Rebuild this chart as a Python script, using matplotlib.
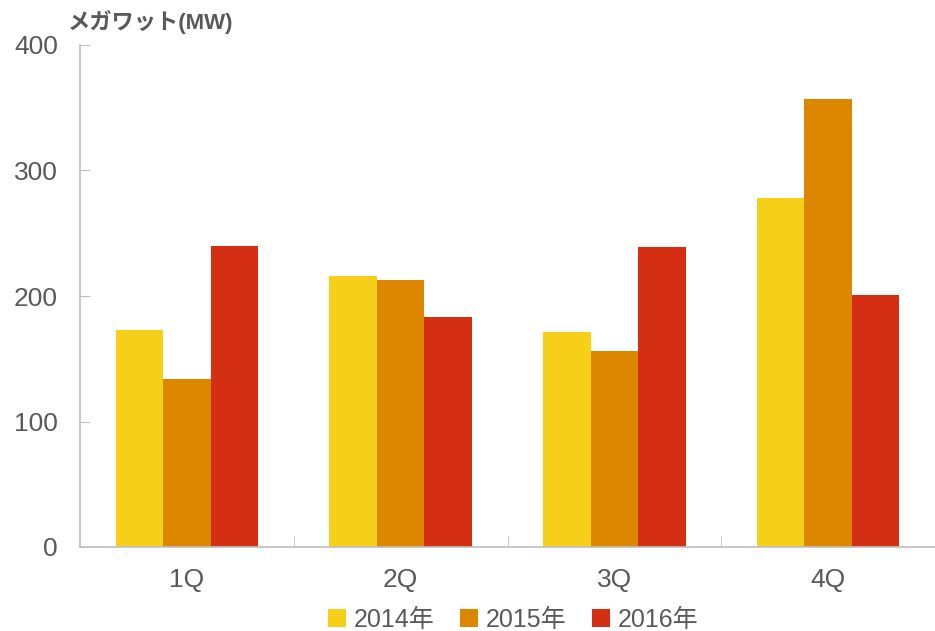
import numpy as np
import matplotlib.pyplot as plt
from matplotlib.ticker import FixedLocator

plt.rcParams['font.family'] = ['Liberation Sans', 'Noto Sans CJK JP']

quarters = ["1Q", "2Q", "3Q", "4Q"]
years = ["2014年", "2015年", "2016年"]
mw_2014 = [173, 216, 171, 278]
mw_2015 = [134, 213, 156, 357]
mw_2016 = [240, 183, 239, 201]
colors = ["#F6D018", "#DD8700", "#D52F13"]

text_col = "#595959"
axis_col = "#BFBFBF"

fig = plt.figure(figsize=(9.35, 6.31), dpi=100)
ax = fig.add_axes([80/935, 84/631, 855/935, 502/631])

x = np.arange(len(quarters))
w = 0.222
for i, (vals, lab, c) in enumerate(zip([mw_2014, mw_2015, mw_2016], years, colors)):
    ax.bar(x + (i - 1) * w, vals, w, color=c, label=lab)

ax.set_xlim(-0.5, 3.5)
ax.set_ylim(0, 400)
ax.set_yticks([0, 100, 200, 300, 400])
ax.set_xticks(x)
ax.set_xticklabels(quarters)
ax.xaxis.set_minor_locator(FixedLocator([0.5, 1.5, 2.5, 3.5]))

for s in ["top", "right"]:
    ax.spines[s].set_visible(False)
for s in ["left", "bottom"]:
    ax.spines[s].set_color(axis_col)
    ax.spines[s].set_linewidth(1.2)

ax.tick_params(axis="y", direction="in", length=7, color=axis_col, labelsize=19,
               labelcolor=text_col, pad=16)
ax.tick_params(axis="x", which="major", length=0, labelsize=19, labelcolor=text_col, pad=15)
ax.tick_params(axis="x", which="minor", direction="in", length=8, color=axis_col)

fig.text(68/935, 1 - 22/631, "メガワット(MW)", fontsize=16, fontweight="bold",
         color=text_col, ha="left", va="center")

leg = fig.legend(loc="center", bbox_to_anchor=(513/935, 1 - 620/631), ncol=3,
                 frameon=False, fontsize=18, handlelength=0.75, handleheight=0.75,
                 handletextpad=0.3, columnspacing=1.0)
for t in leg.get_texts():
    t.set_color(text_col)

fig.savefig("out.png", dpi=100)
